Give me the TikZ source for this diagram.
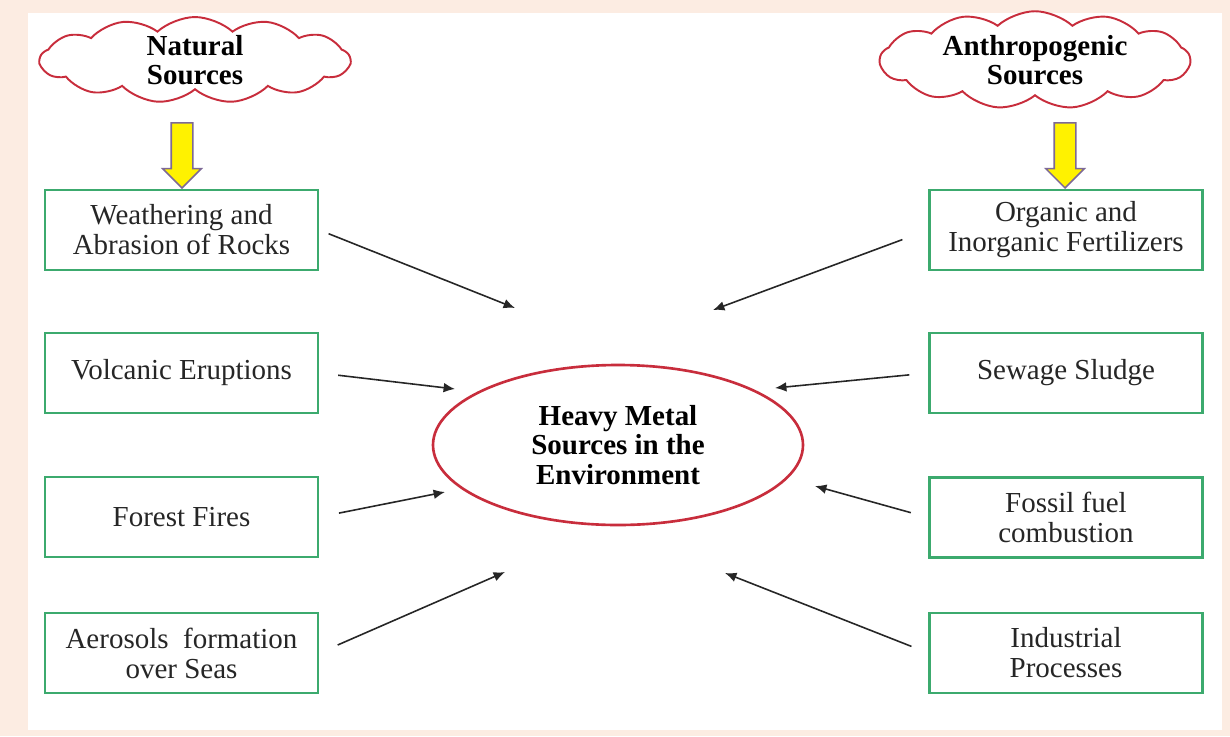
\documentclass[tikz,border=0pt]{standalone}
\usepackage{fontspec}
\setmainfont{Liberation Serif}
\usepackage{tikz}
\usetikzlibrary{shapes.symbols, shapes.geometric, shapes.arrows, arrows.meta, positioning}
\definecolor{peach}{RGB}{252,236,226}
\definecolor{boxgreen}{RGB}{60,170,110}
\definecolor{cloudred}{RGB}{200,45,60}
\definecolor{arrowrim}{RGB}{125,105,150}

\begin{document}
\begin{tikzpicture}[sourcebox/.style={rectangle,
					line width=1.5pt,
					minimum width=5.46cm,
					minimum height=1.6cm,
					draw=boxgreen,
					fill=white,
					align=center,
					text=black!85,
					font=\fontsize{16.5}{17}\selectfont},
					cloudnode/.style={cloud,
					cloud puffs=13,
					cloud puff arc=85,
					cloud ignores aspect,
					inner sep=1pt,
					minimum width=6.2cm,
					minimum height=1.4cm,
					draw=cloudred,
					line width=1.1pt,
					fill=white,
					align=center,
					font=\fontsize{16.5}{16.5}\selectfont\bfseries},
					yellowarrow/.style={single arrow,
					shape border rotate=270,
					single arrow head extend=0.17cm,
					minimum height=1.3cm,
					inner sep=0.2cm,
					draw=arrowrim,
					line width=0.9pt,
					fill=yellow},
					feed/.style={-{Latex[length=6.5pt,width=5.5pt]},
					black!85,
					line width=0.9pt}
					]

% page and inner white sheet
\useasboundingbox (0,0) rectangle (24.6,-14.72);
\fill[peach] (0,0) rectangle (24.6,-14.72);
\fill[white] (0.56,-0.26) rectangle (24.44,-14.6);

% centre node
\node[ellipse, draw=cloudred, line width=1.5pt, minimum width=7.4cm, minimum height=3.2cm,
      align=center, font=\fontsize{16.5}{17}\selectfont\bfseries] (hm) at (12.36,-8.9)
      {Heavy Metal\\Sources in the\\Environment};

% cloud nodes
\node[cloudnode] (nat) at (3.9,-1.2) {Natural\\Sources};
\node[cloudnode] (anth) at (20.7,-1.2) {Anthropogenic\\Sources};

% yellow arrows
\node[yellowarrow] (ya1) [below of = nat, node distance=1.8cm, xshift=-0.26cm] {};
\node[yellowarrow] (ya2) [below of = anth, node distance=1.8cm, xshift=0.6cm] {};

% natural nodes
\node[sourcebox] (nat1) at (3.63,-4.6) {Weathering and\\Abrasion of Rocks};
\node[sourcebox] (nat2) [below of = nat1, node distance=2.86cm] {Volcanic Eruptions};
\node[sourcebox] (nat3) [below of = nat2, node distance=2.88cm] {Forest Fires};
\node[sourcebox] (nat4) [below of = nat3, node distance=2.72cm] {Aerosols\ \ formation\\over Seas};

% anthropogenic nodes
\node[sourcebox] (anth1) [right of = nat1, node distance=17.69cm] {Organic and\\Inorganic Fertilizers};
\node[sourcebox] (anth2) [below of = anth1, node distance=2.86cm] {Sewage Sludge};
\node[sourcebox] (anth3) [below of = anth2, node distance=2.89cm] {Fossil fuel\\combustion};
\node[sourcebox] (anth4) [below of = anth3, node distance=2.71cm] {Industrial\\Processes};

% arrow tips around the ellipse
\coordinate (tn1) at (10.3,-6.16);
\coordinate (tn2) at (9.1,-7.78);
\coordinate (tn3) at (8.9,-9.84);
\coordinate (tn4) at (10.1,-11.44);
\coordinate (ta1) at (14.26,-6.2);
\coordinate (ta2) at (15.5,-7.76);
\coordinate (ta3) at (16.3,-9.72);
\coordinate (ta4) at (14.5,-11.46);

% Arrows natural to centre
\path[feed, shorten <=0.2cm] (nat1.east) edge (tn1);
\path[feed, shorten <=0.38cm] (nat2.east) edge (tn2);
\path[feed, shorten <=0.4cm] (nat3.east) edge (tn3);
\path[feed, shorten <=0.4cm] (nat4.east) edge (tn4);

% Arrows anthropogenic to centre
\path[feed, shorten <=0.55cm] (anth1.west) edge (ta1);
\path[feed, shorten <=0.38cm] (anth2.west) edge (ta2);
\path[feed, shorten <=0.36cm] (anth3.west) edge (ta3);
\path[feed, shorten <=0.36cm] (anth4.west) edge (ta4);

\end{tikzpicture}
\end{document}
